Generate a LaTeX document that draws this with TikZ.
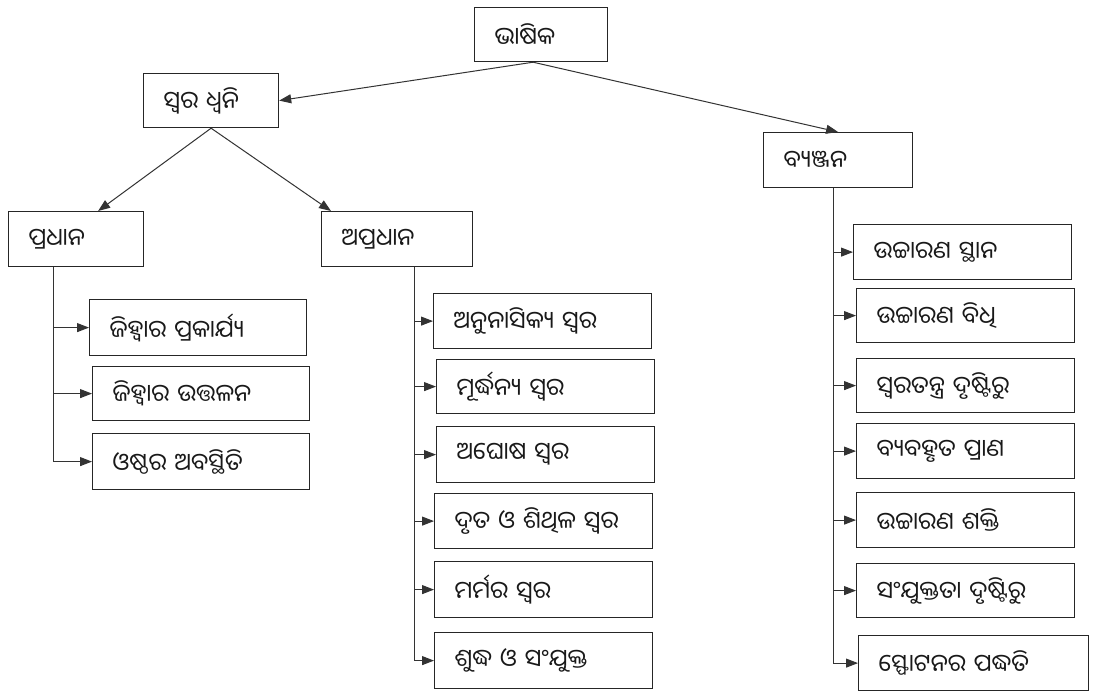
\documentclass[tikz,border=0pt]{standalone}
\usepackage{fontspec}
\newfontfamily\odia[Script=Oriya]{Noto Sans Oriya UI}
\usetikzlibrary{arrows.meta,calc}
\begin{document}
\begin{tikzpicture}[x=1pt,y=-1pt,
  box/.style={draw=black!85, line width=1.2pt, anchor=north west, inner xsep=20pt, inner ysep=0pt, align=left, font=\odia\fontsize{24}{28}\selectfont, text=black!90},
  ln/.style={draw=black!80, line width=1pt},
  arr/.style={ln, -{Triangle[length=12pt,width=9pt]}}]
\useasboundingbox[fill=white] (0,0) rectangle (1098,691);
% top
\node[box, minimum height=54pt, text width=93pt] (bh) at (474,7) {ଭାଷିକ};
\node[box, minimum height=54pt, text width=95pt] (sd) at (143,73) {ସ୍ୱର ଧ୍ୱନି};
\node[box, minimum height=55pt, text width=109pt] (bj) at (763,132) {ବ୍ୟଞ୍ଜନ};
\node[box, minimum height=55pt, text width=95pt] (pr) at (8,211) {ପ୍ରଧାନ};
\node[box, minimum height=55pt, text width=111pt] (ap) at (321,211) {ଅପ୍ରଧାନ};
% pradhana children
\node[box, minimum height=56pt, text width=177pt] (p1) at (89,299) {ଜିହ୍ୱାର ପ୍ରକାର୍ଯ୍ୟ};
\node[box, minimum height=54pt, text width=177pt] (p2) at (92,366) {ଜିହ୍ୱାର ଉତ୍ତଳନ};
\node[box, minimum height=56pt, text width=177pt] (p3) at (92,433) {ଓଷ୍ଠର ଅବସ୍ଥିତି};
% apradhana children
\node[box, minimum height=55pt, text width=178pt] (a1) at (433,293) {ଅନୁନାସିକ୍ୟ ସ୍ୱର};
\node[box, minimum height=54pt, text width=178pt] (a2) at (436,359) {ମୂର୍ଦ୍ଧନ୍ୟ ସ୍ୱର};
\node[box, minimum height=56pt, text width=178pt] (a3) at (436,426) {ଅଘୋଷ ସ୍ୱର};
\node[box, minimum height=55pt, text width=178pt] (a4) at (434,493) {ଦୃତ ଓ ଶିଥିଳ ସ୍ୱର};
\node[box, minimum height=56pt, text width=178pt] (a5) at (434,561) {ମର୍ମର ସ୍ୱର};
\node[box, minimum height=56pt, text width=178pt] (a6) at (434,632) {ଶୁଦ୍ଧ ଓ ସଂଯୁକ୍ତ};
% byanjana children
\node[box, minimum height=55pt, text width=178pt] (b1) at (853,224) {ଉଚ୍ଚାରଣ ସ୍ଥାନ};
\node[box, minimum height=54pt, text width=178pt] (b2) at (856,288) {ଉଚ୍ଚାରଣ ବିଧି};
\node[box, minimum height=54pt, text width=178pt] (b3) at (856,358) {ସ୍ୱରତନ୍ତ୍ର ଦୃଷ୍ଟିରୁ};
\node[box, minimum height=55pt, text width=178pt] (b4) at (856,423) {ବ୍ୟବହୃତ ପ୍ରାଣ};
\node[box, minimum height=55pt, text width=178pt] (b5) at (856,492) {ଉଚ୍ଚାରଣ ଶକ୍ତି};
\node[box, minimum height=54pt, text width=178pt] (b6) at (856,563) {ସଂଯୁକ୍ତତା ଦୃଷ୍ଟିରୁ};
\node[box, minimum height=55pt, text width=190pt] (b7) at (858,635) {ସ୍ଫୋଟନର ପଦ୍ଧତି};
% top connectors
\draw[arr] ([xshift=-8pt]bh.south) -- (sd.east);
\draw[arr] ([xshift=-8pt]bh.south) -- (bj.north);
\draw[arr] (sd.south) -- ([xshift=22pt]pr.north);
\draw[arr] (sd.south) -- ([xshift=10pt]ap.north west);
% spines
\coordinate (sp) at (53,0);
\coordinate (sa) at (414,0);
\coordinate (sb) at (833,0);
\draw[ln] (pr.south -| sp) -- (p3.west -| sp);
\draw[ln] (ap.south -| sa) -- (a6.west -| sa);
\draw[ln] (bj.south -| sb) -- (b7.west -| sb);
\foreach \n in {p1,p2,p3} \draw[arr] (\n.west -| sp) -- (\n.west);
\foreach \n in {a1,a2,a3,a4,a5,a6} \draw[arr] (\n.west -| sa) -- (\n.west);
\foreach \n in {b1,b2,b3,b4,b5,b6,b7} \draw[arr] (\n.west -| sb) -- (\n.west);
\end{tikzpicture}
\end{document}
